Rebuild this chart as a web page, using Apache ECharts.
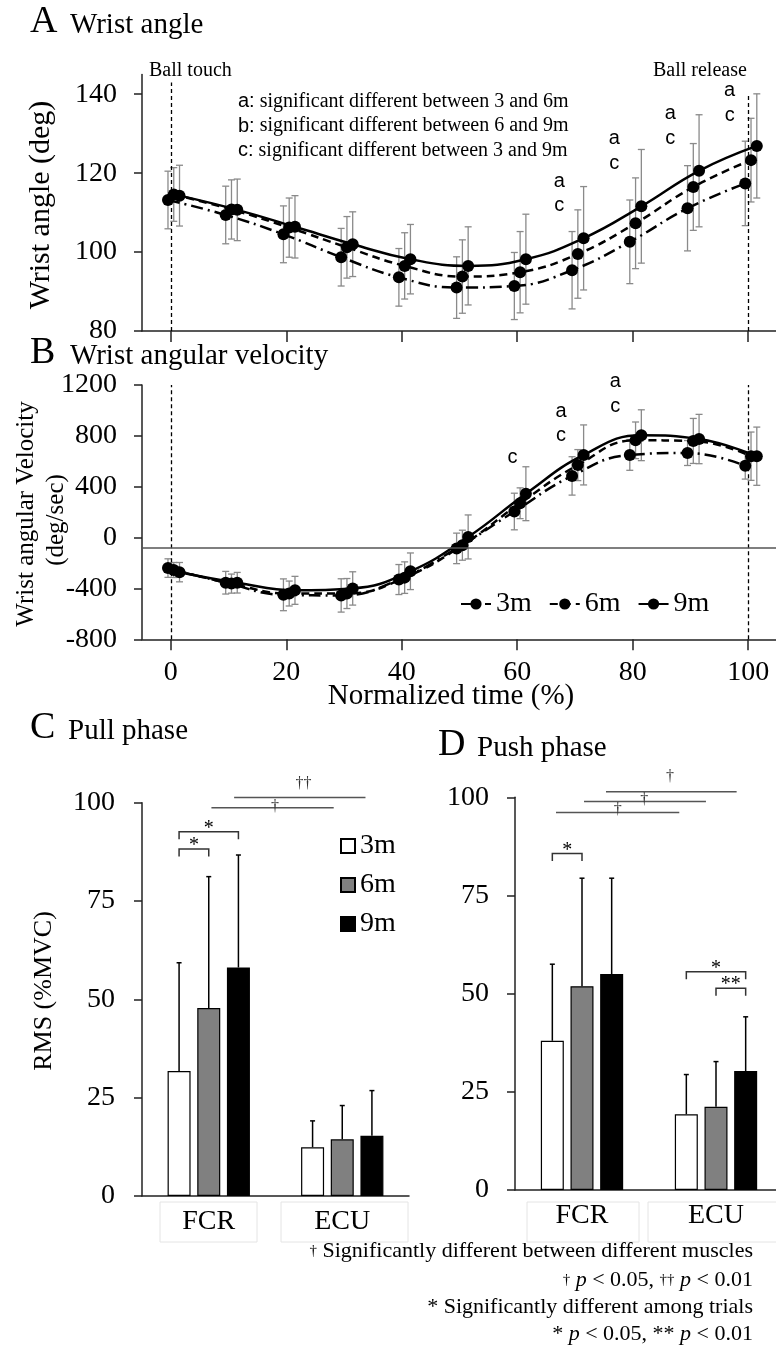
<!DOCTYPE html>
<html>
<head>
<meta charset="utf-8">
<script src="https://cdn.jsdelivr.net/npm/echarts@6/dist/echarts.min.js"></script>
<style>
  html, body { margin: 0; padding: 0; background: #fff; }
  #chart { width: 776px; height: 1351px; }
</style>
</head>
<body>
<div id="chart"></div>
<script>
// ---- data -------------------------------------------------------------
const timePct = [0, 10, 20, 30, 40, 50, 60, 70, 80, 90, 100];
const trials = ['3m', '6m', '9m'];
const timeTicks = [0, 20, 40, 60, 80, 100];
const angleTicks = [80, 100, 120, 140];

// Wrist angle (deg), mean and SD
const angle3m = [113.2, 109.4, 104.5, 98.7, 93.6, 91.0, 91.4, 95.4, 102.6, 111.1, 117.4];
const angle6m = [114.6, 110.8, 106.2, 101.2, 96.5, 93.8, 94.9, 99.5, 107.3, 116.5, 123.3];
const angle9m = [114.3, 110.7, 106.4, 102.0, 98.2, 96.5, 98.2, 103.5, 111.6, 120.6, 126.9];
const angleSd3m = [7.3, 7.3, 7.2, 7.3, 7.3, 7.8, 8.5, 9.8, 10.6, 10.8, 10.7];
const angleSd6m = [6.8, 7.5, 7.5, 7.8, 8.4, 9.3, 10.3, 11.2, 11.5, 11.0, 10.6];
const angleSd9m = [7.7, 7.8, 7.9, 8.2, 8.8, 9.9, 11.4, 13.1, 14.4, 14.2, 13.2];

// Wrist angular velocity (deg/sec), mean and SD
const vel3m = [-240, -355, -450, -455, -330, -85, 205, 485, 650, 665, 565];
const vel6m = [-255, -362, -440, -440, -315, -60, 270, 570, 765, 760, 640];
const vel9m = [-272, -355, -415, -400, -265, 5, 345, 650, 805, 775, 640];
const velSd3m = [73, 89, 125, 131, 118, 120, 144, 151, 121, 98, 105];
const velSd6m = [59, 75, 98, 118, 124, 118, 121, 122, 144, 177, 190];
const velSd9m = [76, 81, 110, 131, 144, 173, 212, 236, 200, 194, 229];

// significance letters: [time %, value, letters]
const angleSigMarks = [[67.3, 114.8, 'a\nc'], [76.8, 125.6, 'a\nc'], [86.5, 131.9, 'a\nc'], [96.8, 137.8, 'a\nc']];
const velSigMarks = [[59.2, 626, 'c'], [67.6, 899, 'a\nc'], [77.0, 1131, 'a\nc']];
const refLevel = -80;

// EMG RMS (%MVC), mean and SD
const muscles = ['FCR', 'ECU'];
const pull3m = [31.8, 12.4], pullSd3m = [27.5, 6.7];
const pull6m = [47.8, 14.4], pullSd6m = [33.4, 8.6];
const pull9m = [58.1, 15.3], pullSd9m = [28.6, 11.5];
const push3m = [38.0, 19.3], pushSd3m = [19.5, 10.1];
const push6m = [51.9, 21.2], pushSd6m = [27.5, 11.5];
const push9m = [55.0, 30.3], pushSd9m = [24.4, 13.8];

// between-trial brackets: [muscle, trial from, trial to, height, mark]
const pullBrackets = [[0, 0, 1, 88.2, '*'], [0, 0, 2, 92.6, '*']];
const pushBrackets = [[0, 0, 1, 85.7, '*'], [1, 0, 2, 55.6, '*'], [1, 1, 2, 51.4, '**']];
// between-muscle lines: [start, end (category units), height, mark, mark position, mark height]
const pullMuscleLines = [[0.02, 0.936, 98.7, '†', 0.497, 99.0], [0.19, 1.174, 101.3, '††', 0.71, 104.8]];
const pushMuscleLines = [[-0.194, 0.726, 96.1, '†', 0.266, 96.8], [0.015, 0.925, 98.9, '†', 0.465, 99.4], [0.179, 1.154, 101.4, '†', 0.657, 105.2]];

// ---- styles -----------------------------------------------------------
const SERIF = '"Liberation Serif", "Times New Roman", serif';
const SANS = '"Liberation Sans", Arial, sans-serif';
const AXIS_COLOR = '#222';
const JITTER = [-0.5, 0.5, 1.5];
const LINE_TYPES = [[12, 5, 2, 5], [8, 5], 'solid'];
const BAR_W = 23, BAR_GAP = 0.29, BAR_STEP = BAR_W * (1 + BAR_GAP);
const BAR_FILL = ['#ffffff', '#808080', '#000000'];

const chart = echarts.init(document.getElementById('chart'), null, { renderer: 'canvas' });

function pts(means, k) { return means.map((v, i) => [timePct[i] + JITTER[k], v]); }
function errPts(means, sds, k) { return means.map((v, i) => [timePct[i] + JITTER[k], v, sds[i]]); }

function errorBarItem(params, api) {
  const x = api.value(0), m = api.value(1), s = api.value(2);
  const hi = api.coord([x, m + s]), lo = api.coord([x, m - s]);
  const st = { stroke: '#8a8a8a', lineWidth: 1.3 };
  return { type: 'group', children: [
    { type: 'line', shape: { x1: hi[0], y1: hi[1], x2: lo[0], y2: lo[1] }, style: st },
    { type: 'line', shape: { x1: hi[0] - 3.5, y1: hi[1], x2: hi[0] + 3.5, y2: hi[1] }, style: st },
    { type: 'line', shape: { x1: lo[0] - 3.5, y1: lo[1], x2: lo[0] + 3.5, y2: lo[1] }, style: st }
  ] };
}

function letterSeries(marks, axisIdx) {
  return {
    type: 'custom', xAxisIndex: axisIdx, yAxisIndex: axisIdx, z: 5, silent: true,
    data: marks.map(m => [m[0], m[1]]),
    renderItem(params, api) {
      const p = api.coord([api.value(0), api.value(1)]);
      return { type: 'text', x: p[0], y: p[1], style: {
        text: marks[params.dataIndex][2], align: 'center', verticalAlign: 'middle',
        fontSize: 20, fontFamily: SANS, lineHeight: 24.5, fill: '#000' } };
    }
  };
}

function lineSeries(name, means, k, axisIdx, markLine) {
  const s = {
    name, type: 'line', xAxisIndex: axisIdx, yAxisIndex: axisIdx, z: 3,
    data: pts(means, k), smooth: 0.45, symbol: 'circle', symbolSize: 12, showAllSymbol: true,
    itemStyle: { color: '#000' },
    lineStyle: { color: '#000', width: 2.5, type: LINE_TYPES[k] }
  };
  if (markLine) s.markLine = markLine;
  return s;
}

function dashedMarks(pairs, extra) {
  const data = pairs.map(p => [{ coord: p[0] }, { coord: p[1] }]);
  return {
    silent: true, symbol: ['none', 'none'], label: { show: false },
    lineStyle: { color: '#000', width: 1.3, type: [4, 3] },
    data: data.concat(extra || [])
  };
}

function barErrorSeries(axisIdx, means, sds) {
  const data = [];
  means.forEach((arr, k) => arr.forEach((v, c) => data.push([c, v, sds[k][c], k])));
  return {
    type: 'custom', xAxisIndex: axisIdx, yAxisIndex: axisIdx, z: 4, silent: true, data,
    encode: { x: 0, y: 1 },
    renderItem(params, api) {
      const c = api.value(0), m = api.value(1), s = api.value(2), k = api.value(3);
      const base = api.coord([c, m]), top = api.coord([c, m + s]);
      const x = base[0] + (k - 1) * BAR_STEP;
      const st = { stroke: '#000', lineWidth: 1.5 };
      return { type: 'group', children: [
        { type: 'line', shape: { x1: x, y1: base[1], x2: x, y2: top[1] }, style: st },
        { type: 'line', shape: { x1: x - 2.5, y1: top[1], x2: x + 2.5, y2: top[1] }, style: st }
      ] };
    }
  };
}

function bracketSeries(axisIdx, brackets) {
  return {
    type: 'custom', xAxisIndex: axisIdx, yAxisIndex: axisIdx, z: 6, silent: true,
    data: brackets.map(b => [b[0], b[3]]),
    renderItem(params, api) {
      const b = brackets[params.dataIndex];
      const p = api.coord([b[0], b[3]]);
      const x1 = p[0] + (b[1] - 1) * BAR_STEP, x2 = p[0] + (b[2] - 1) * BAR_STEP;
      const y = p[1], st = { stroke: '#333', lineWidth: 1.5, fill: null };
      return { type: 'group', children: [
        { type: 'polyline', shape: { points: [[x1, y + 7.5], [x1, y], [x2, y], [x2, y + 7.5]] }, style: st },
        { type: 'text', x: (x1 + x2) / 2, y: y - 3, style: { text: b[4], align: 'center', verticalAlign: 'middle', fontSize: 20, fontFamily: SERIF, fill: '#000' } }
      ] };
    }
  };
}

function muscleLineSeries(axisIdx, lines) {
  return {
    type: 'custom', xAxisIndex: axisIdx, yAxisIndex: axisIdx, z: 6, silent: true,
    data: lines.map(l => [0, l[2]]),
    renderItem(params, api) {
      const l = lines[params.dataIndex];
      const c0 = api.coord([0, l[2]]), band = api.size([1, 0])[0];
      const xs = c0[0] + l[0] * band, xe = c0[0] + l[1] * band;
      const mark = api.coord([0, l[5]]);
      return { type: 'group', children: [
        { type: 'line', shape: { x1: xs, y1: c0[1], x2: xe, y2: c0[1] }, style: { stroke: '#555', lineWidth: 1.5 } },
        { type: 'text', x: c0[0] + l[4] * band, y: mark[1], style: { text: l[3], align: 'center', verticalAlign: 'middle', fontSize: 16, fontFamily: SERIF, fill: '#333' } }
      ] };
    }
  };
}

function barSeries(prefix, axisIdx, means) {
  return means.map((arr, k) => ({
    name: prefix + ' ' + trials[k], type: 'bar', xAxisIndex: axisIdx, yAxisIndex: axisIdx, z: 3,
    data: arr, barWidth: BAR_W, barGap: (BAR_GAP * 100) + '%',
    itemStyle: { color: BAR_FILL[k], borderColor: '#000', borderWidth: 1.2 }
  }));
}

// ---- axes -------------------------------------------------------------
const axisLine = { show: true, onZero: false, lineStyle: { color: AXIS_COLOR, width: 1.5 } };
const tickLab = { color: '#000', fontSize: 28, fontFamily: SERIF, formatter: v => String(v) };

function timeAxis(gridIndex, withLabels) {
  return {
    type: 'value', gridIndex, min: -5, max: 105,
    axisLine, splitLine: { show: false },
    axisTick: { show: true, length: 11, customValues: timeTicks, lineStyle: { color: AXIS_COLOR, width: 1.5 } },
    axisLabel: Object.assign({ show: withLabels, margin: 19, customValues: timeTicks }, tickLab)
  };
}

const catLab = { color: '#000', fontSize: 28, fontFamily: SERIF, margin: 12 };

const option = {
  animation: false,
  backgroundColor: '#fff',
  textStyle: { fontFamily: SERIF },
  grid: [
    { left: 142, top: 74.5, width: 635, height: 256.5, outerBoundsMode: 'none' },
    { left: 142, top: 385, width: 635, height: 254.3, outerBoundsMode: 'none' },
    { left: 142, top: 802.7, width: 267, height: 393.3, outerBoundsMode: 'none' },
    { left: 515, top: 797.3, width: 268, height: 392.7, outerBoundsMode: 'none' }
  ],
  xAxis: [
    timeAxis(0, false),
    timeAxis(1, true),
    { type: 'category', gridIndex: 2, data: muscles, axisLine,
      axisTick: { length: 7, lineStyle: { color: AXIS_COLOR, width: 1.5 } }, axisLabel: catLab },
    { type: 'category', gridIndex: 3, data: muscles, axisLine,
      axisTick: { length: 7, lineStyle: { color: AXIS_COLOR, width: 1.5 } }, axisLabel: catLab }
  ],
  yAxis: [
    { type: 'value', gridIndex: 0, min: 80, max: 145, axisLine, splitLine: { show: false },
      axisTick: { show: true, length: 8, customValues: angleTicks, lineStyle: { color: AXIS_COLOR, width: 1.5 } },
      axisLabel: Object.assign({ margin: 25, customValues: angleTicks }, tickLab) },
    { type: 'value', gridIndex: 1, min: -800, max: 1200, interval: 400, axisLine, splitLine: { show: false },
      axisTick: { show: true, length: 8, lineStyle: { color: AXIS_COLOR, width: 1.5 } },
      axisLabel: Object.assign({ margin: 25 }, tickLab) },
    { type: 'value', gridIndex: 2, min: 0, max: 100, interval: 25, axisLine, splitLine: { show: false },
      axisTick: { show: true, length: 8, lineStyle: { color: AXIS_COLOR, width: 1.5 } },
      axisLabel: Object.assign({ margin: 27 }, tickLab) },
    { type: 'value', gridIndex: 3, min: 0, max: 100, interval: 25, axisLine, splitLine: { show: false },
      axisTick: { show: true, length: 8, lineStyle: { color: AXIS_COLOR, width: 1.5 } },
      axisLabel: Object.assign({ margin: 26 }, tickLab) }
  ],
  legend: [
    { data: trials, left: 460, top: 590, padding: 0, orient: 'horizontal',
      itemWidth: 30, itemHeight: 14, itemGap: 17, selectedMode: false,
      textStyle: { color: '#000', fontSize: 28, fontFamily: SERIF, lineHeight: 28 } },
    { data: trials.map(t => ({ name: 'pull ' + t, icon: 'rect' })), left: 340, top: 832, padding: 0, orient: 'vertical',
      itemWidth: 14, itemHeight: 14, itemGap: 11, selectedMode: false,
      formatter: n => n.replace('pull ', ''),
      textStyle: { color: '#000', fontSize: 28, fontFamily: SERIF, lineHeight: 28 } }
  ],
  series: [
    // A: wrist angle
    { type: 'custom', xAxisIndex: 0, yAxisIndex: 0, z: 2, silent: true, encode: { x: 0, y: 1 },
      data: errPts(angle3m, angleSd3m, 0).concat(errPts(angle6m, angleSd6m, 1), errPts(angle9m, angleSd9m, 2)),
      renderItem: errorBarItem },
    lineSeries('angle 3m', angle3m, 0, 0),
    lineSeries('angle 6m', angle6m, 1, 0),
    lineSeries('angle 9m', angle9m, 2, 0, dashedMarks([[[0, 80], [0, 143]], [[100, 80], [100, 140]]])),
    letterSeries(angleSigMarks, 0),

    // B: wrist angular velocity
    { type: 'custom', xAxisIndex: 1, yAxisIndex: 1, z: 2, silent: true, encode: { x: 0, y: 1 },
      data: errPts(vel3m, velSd3m, 0).concat(errPts(vel6m, velSd6m, 1), errPts(vel9m, velSd9m, 2)),
      renderItem: errorBarItem },
    lineSeries('3m', vel3m, 0, 1),
    lineSeries('6m', vel6m, 1, 1),
    lineSeries('9m', vel9m, 2, 1, dashedMarks([[[0, -800], [0, 1200]], [[100, -800], [100, 1200]]],
      [[{ coord: [-5, refLevel], lineStyle: { color: '#555', width: 1.5, type: 'solid' } }, { coord: [105, refLevel] }]])),
    letterSeries(velSigMarks, 1),

    // C: pull phase
    ...barSeries('pull', 2, [pull3m, pull6m, pull9m]),
    barErrorSeries(2, [pull3m, pull6m, pull9m], [pullSd3m, pullSd6m, pullSd9m]),
    bracketSeries(2, pullBrackets),
    muscleLineSeries(2, pullMuscleLines),

    // D: push phase
    ...barSeries('push', 3, [push3m, push6m, push9m]),
    barErrorSeries(3, [push3m, push6m, push9m], [pushSd3m, pushSd6m, pushSd9m]),
    bracketSeries(3, pushBrackets),
    muscleLineSeries(3, pushMuscleLines)
  ],
  graphic: { elements: [] }
};

// ---- titles and notes ------------------------------------------------
function txt(x, y, text, size, extra) {
  const el = { type: 'text', x, y, silent: true,
    style: { text, fontSize: size, fontFamily: SERIF, fill: '#000', align: 'left', verticalAlign: 'middle' } };
  if (extra) {
    if (extra.rotation !== undefined) { el.rotation = extra.rotation; delete extra.rotation; }
    Object.assign(el.style, extra);
  }
  return el;
}
function box(x, y, w, h) {
  return { type: 'rect', silent: true, shape: { x, y, width: w, height: h }, style: { fill: null, stroke: '#e4e4e4', lineWidth: 1 } };
}

const notesRich = { i: { fontStyle: 'italic', fontSize: 22, fontFamily: SERIF }, d: { fontSize: 15, fontFamily: SERIF } };
option.graphic.elements = [
  txt(30, 22, 'A', 38), txt(70, 25, 'Wrist angle', 29),
  txt(30, 353, 'B', 38), txt(70, 356, 'Wrist angular velocity', 29),
  txt(30, 728, 'C', 38), txt(68, 731, 'Pull phase', 29),
  txt(438, 745, 'D', 38), txt(477, 748, 'Push phase', 29),

  txt(41, 205, 'Wrist angle (deg)', 30, { align: 'center', rotation: Math.PI / 2 }),
  txt(26.6, 514, 'Wrist angular Velocity', 25, { align: 'center', rotation: Math.PI / 2 }),
  txt(56.6, 520, '(deg/sec)', 25, { align: 'center', rotation: Math.PI / 2 }),
  txt(44, 991, 'RMS (%MVC)', 26, { align: 'center', rotation: Math.PI / 2 }),
  txt(451, 696, 'Normalized time (%)', 29, { align: 'center' }),

  txt(149, 71, 'Ball touch', 20),
  txt(653, 71, 'Ball release', 20),
  txt(238, 101.5, '{s|a:} significant different between 3 and 6m', 20, { rich: { s: { fontFamily: SANS, fontSize: 20 } } }),
  txt(238, 126, '{s|b:} significant different between 6 and 9m', 20, { rich: { s: { fontFamily: SANS, fontSize: 20 } } }),
  txt(238, 150.5, '{s|c:} significant different between 3 and 9m', 20, { rich: { s: { fontFamily: SANS, fontSize: 20 } } }),

  box(160, 1202, 97, 40), box(281, 1202, 127, 40), box(527, 1202, 112, 40), box(648, 1202, 140, 40),

  txt(753, 1251, '{d|†} Significantly different between different muscles', 22, { align: 'right', rich: notesRich }),
  txt(753, 1280, '{d|†} {i|p} < 0.05, {d|††} {i|p} < 0.01', 22, { align: 'right', rich: notesRich }),
  txt(753, 1307, '* Significantly different among trials', 22, { align: 'right', rich: notesRich }),
  txt(753, 1334, '* {i|p} < 0.05, ** {i|p} < 0.01', 22, { align: 'right', rich: notesRich })
];

chart.setOption(option);
</script>
</body>
</html>
